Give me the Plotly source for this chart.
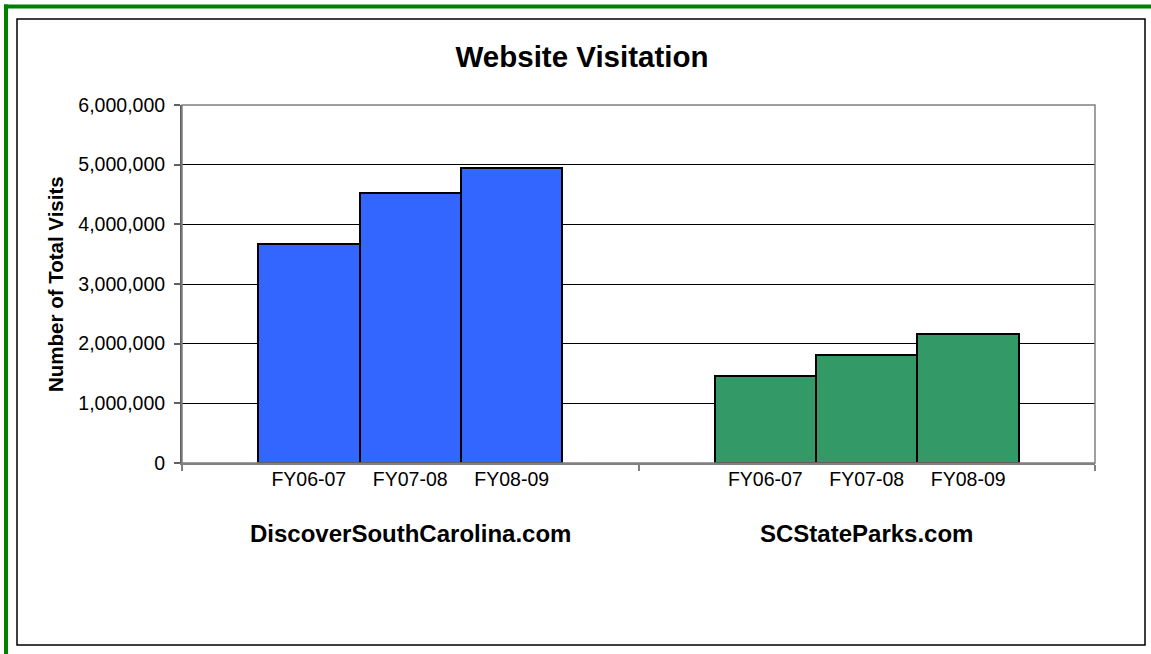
import plotly.graph_objects as go

# ---- data ----
sites = ["DiscoverSouthCarolina.com", "SCStateParks.com"]
years = ["FY06-07", "FY07-08", "FY08-09"]
discover_visits = [3665000, 4520000, 4940000]
parks_visits = [1460000, 1810000, 2160000]
site_colors = ["#3366FF", "#339966"]
y_ticks = [0, 1000000, 2000000, 3000000, 4000000, 5000000, 6000000]

W, H = 1151, 654
L, R, T, B = 182, 1095, 105, 463  # plot area in pixels

bar_w = 2 / 9  # bars fill 2/3 of each category slot


def xpos(g, j):
    return g + 0.5 + (j - 1) * bar_w


fig = go.Figure()
for g, (site, vals) in enumerate(zip(sites, [discover_visits, parks_visits])):
    fig.add_trace(go.Bar(
        x=[xpos(g, j) for j in range(len(years))],
        y=vals,
        width=bar_w,
        name=site,
        marker=dict(color=site_colors[g], line=dict(color="black", width=2)),
        showlegend=False,
    ))

tickvals = [xpos(g, j) for g in range(len(sites)) for j in range(len(years))]
ticktext = years * len(sites)


def px2paper_x(px):
    return (px - L) / (R - L)


def px2paper_y(py):
    return (B - py) / (B - T)


shapes = [
    # plot area border
    dict(type="rect", xref="paper", yref="paper", x0=0, x1=1, y0=0, y1=1,
         line=dict(color="#808080", width=1.5), layer="above"),
    # inner chart border
    dict(type="rect", xref="paper", yref="paper",
         x0=px2paper_x(17), x1=px2paper_x(1145),
         y0=px2paper_y(645), y1=px2paper_y(19),
         line=dict(color="black", width=1.5)),
    # green outer frame (top and left)
    dict(type="rect", xref="paper", yref="paper",
         x0=px2paper_x(4), x1=px2paper_x(1151),
         y0=px2paper_y(8.5), y1=px2paper_y(4.5),
         fillcolor="#008000", line=dict(width=0)),
    dict(type="rect", xref="paper", yref="paper",
         x0=px2paper_x(4), x1=px2paper_x(8),
         y0=px2paper_y(654), y1=px2paper_y(4.5),
         fillcolor="#008000", line=dict(width=0)),
]

annotations = [
    dict(text="<b>Number of Total Visits</b>", xref="paper", yref="paper",
         x=px2paper_x(55), y=px2paper_y(284), textangle=-90, showarrow=False,
         xanchor="center", yanchor="middle",
         font=dict(size=20.5, color="black", family="Liberation Sans, Arial, sans-serif")),
]
for g, site in enumerate(sites):
    annotations.append(dict(
        text="<b>" + site + "</b>", xref="x", yref="paper",
        x=g + 0.5, y=px2paper_y(533), showarrow=False,
        xanchor="center", yanchor="middle",
        font=dict(size=24, color="black", family="Liberation Sans, Arial, sans-serif")))

fig.update_layout(
    width=W, height=H,
    margin=dict(l=L, r=W - R, t=T, b=H - B, pad=0),
    paper_bgcolor="white", plot_bgcolor="white",
    font=dict(family="Liberation Sans, Arial, sans-serif", color="black"),
    title=dict(text="<b>Website Visitation</b>", x=582 / W, xanchor="center",
               y=1 - 57 / H, yanchor="middle", yref="container",
               font=dict(size=29.5, color="black")),
    bargap=0, barmode="overlay",
    shapes=shapes, annotations=annotations,
)

fig.update_xaxes(
    range=[0, 2], tickmode="array", tickvals=tickvals, ticktext=ticktext,
    ticks="", ticklen=0, tickfont=dict(size=19.5, color="black"),
    ticklabelstandoff=-2,
    showgrid=False, zeroline=False, showline=True, linecolor="#808080", linewidth=1.5,
    minor=dict(tickmode="array", tickvals=[0, 1, 2], ticks="outside", ticklen=6,
               tickcolor="#808080", tickwidth=1.5, showgrid=False),
)
fig.update_yaxes(
    range=[0, 6000000], tickmode="array", tickvals=y_ticks,
    ticktext=[f"{v:,}" for v in y_ticks],
    ticks="outside", ticklen=6, tickcolor="#606060", tickwidth=1.5,
    tickfont=dict(size=19.5, color="black"), ticklabelstandoff=5,
    showgrid=True, gridcolor="black", gridwidth=1,
    zeroline=False, showline=True, linecolor="#606060", linewidth=2,
)

fig.write_html("out.html", config={"displayModeBar": False},
               post_script="document.body.style.margin='0';document.body.style.padding='0';")
